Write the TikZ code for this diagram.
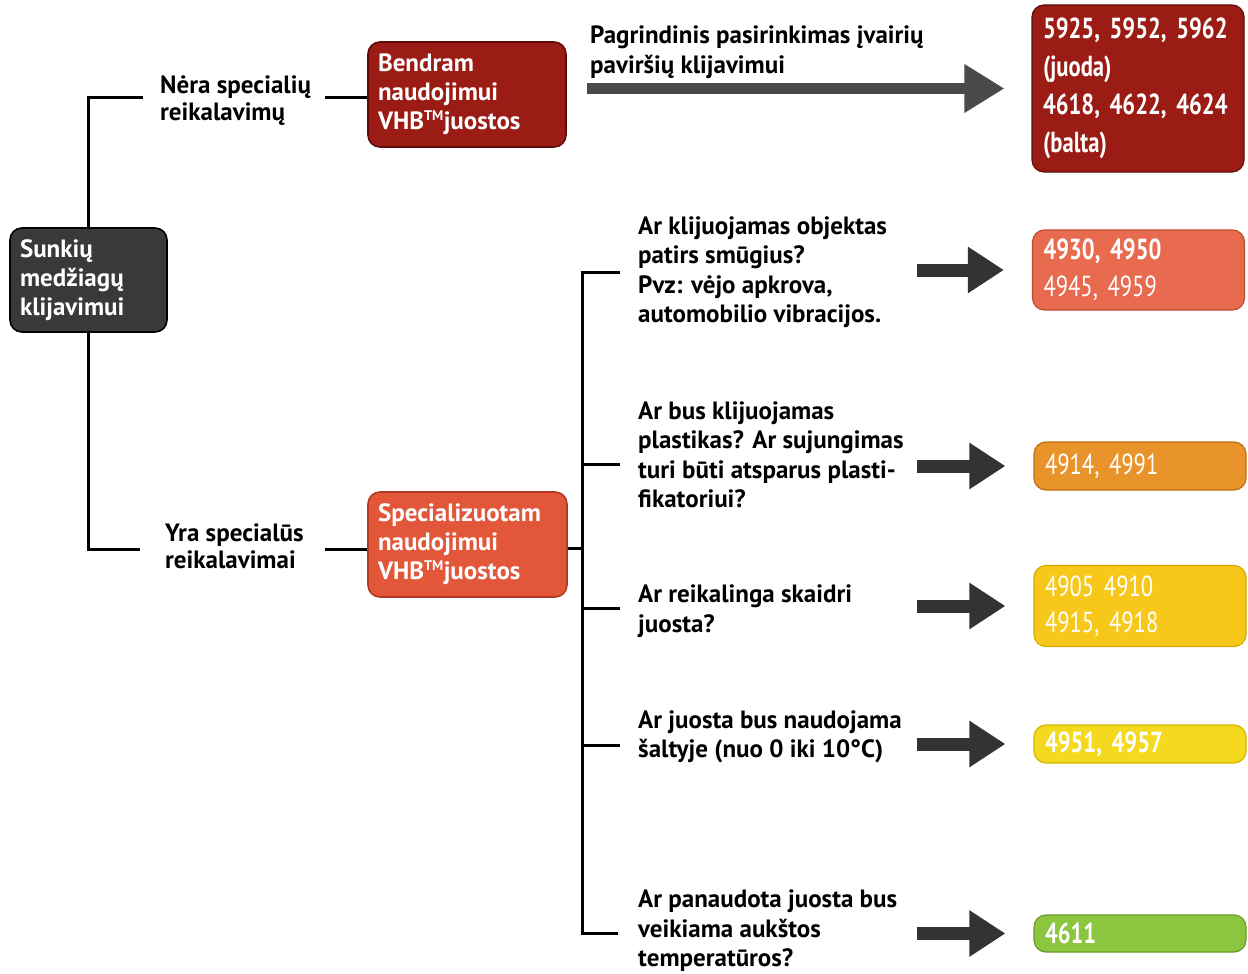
\documentclass[tikz,border=0pt]{standalone}
\usepackage{fontspec}
\setmainfont{PT Sans}
\newfontfamily\condfont[FakeStretch=0.78]{PT Sans}
\usetikzlibrary{arrows.meta}
\definecolor{rootfill}{HTML}{3B3838}
\definecolor{darkred}{HTML}{9A1C14}
\definecolor{darkredb}{HTML}{5E0E09}
\definecolor{specfill}{HTML}{E2573A}
\definecolor{specb}{HTML}{B03A22}
\definecolor{r1fill}{HTML}{E86A4F}
\definecolor{r1b}{HTML}{C04A30}
\definecolor{r2fill}{HTML}{E9942A}
\definecolor{r2b}{HTML}{C06F10}
\definecolor{r3fill}{HTML}{F7C719}
\definecolor{r3b}{HTML}{D8A800}
\definecolor{r4fill}{HTML}{F4D91E}
\definecolor{r4b}{HTML}{D4B800}
\definecolor{r5fill}{HTML}{8CC63E}
\definecolor{r5b}{HTML}{6A9A2A}
\definecolor{arrowc}{HTML}{333333}
\definecolor{toparrow}{HTML}{4A4A4A}
\newcommand{\tmark}{\textsuperscript{\fontsize{14}{14}\selectfont TM}}
\begin{document}
\begin{tikzpicture}[x=1pt,y=-1pt,
  box/.style={rounded corners=12pt, line width=1.6pt, text=white, align=left,
    inner ysep=0pt, font=\fontsize{25}{29}\selectfont\bfseries},
  res/.style={rounded corners=12pt, line width=1.2pt, text=white, align=left,
    inner ysep=0pt, inner xsep=11pt, text width=190pt, minimum width=212pt},
  qtext/.style={anchor=west, align=left, inner sep=0pt,
    font=\fontsize{25}{29.5}\selectfont\bfseries},
  lbl/.style={anchor=west, align=left, inner sep=0pt,
    font=\fontsize{25}{27}\selectfont\bfseries},
  tree/.style={line width=3pt, black},
  bigarrow/.style={line width=13pt, arrowc, shorten >=28pt,
    -{Triangle[length=36pt,width=44pt]}},
  toparr/.style={line width=11pt, toparrow, shorten >=27pt,
    -{Triangle[length=40pt,width=46pt]}}
]
\useasboundingbox[fill=white] (0,0) rectangle (1248,974);

% main boxes
\node[box, draw=black, fill=rootfill, inner xsep=10pt, text width=137pt,
  minimum height=104pt] (root) at (88.5,280)
  {Sunkių\\medžiagų\\klijavimui};
\node[box, draw=darkredb, fill=darkred, inner xsep=10pt, text width=178pt,
  minimum height=105pt] (bend) at (467,94.5)
  {Bendram\\naudojimui\\VHB\tmark juostos};
\node[box, draw=specb, fill=specfill, inner xsep=10pt, text width=179pt,
  minimum height=105pt] (spec) at (467.5,544.5)
  {Specializuotam\\naudojimui\\VHB\tmark juostos};

% labels
\node[lbl] (nera) at (160,101) {Nėra specialių\\reikalavimų};
\node[lbl] (yra) at (165,546) {Yra specialūs\\reikalavimai};
\node[qtext] (toplbl) at (590,52) {Pagrindinis pasirinkimas įvairių\\paviršių klijavimui};

% questions
\node[qtext] (q1) at (638,272) {Ar klijuojamas objektas\\patirs smūgius?\\Pvz: vėjo apkrova,\\automobilio vibracijos.};
\node[qtext] (q2) at (638,455) {Ar bus klijuojamas\\plastikas? Ar sujungimas\\turi būti atsparus plasti-\\fikatoriui?};
\node[qtext] (q3) at (638,611) {Ar reikalinga skaidri\\juosta?};
\node[qtext] (q4) at (638,737) {Ar juosta bus naudojama\\šaltyje (nuo 0 iki 10°C)};
\node[qtext] (q5) at (638,931) {Ar panaudota juosta bus\\veikiama aukštos\\temperatūros?};

% results
\node[res, draw=darkredb, fill=darkred, minimum height=167pt,
  font=\fontsize{29}{38}\selectfont\condfont\bfseries] (top) at (1138,88.5)
  {5925, 5952, 5962\\(juoda)\\4618, 4622, 4624\\(balta)};
\node[res, draw=r1b, fill=r1fill, minimum height=80pt,
  font=\fontsize{29}{37}\selectfont\condfont] (r1) at (1138.5,270)
  {{\bfseries 4930, 4950}\\4945, 4959};
\node[res, draw=r2b, fill=r2fill, minimum height=48pt,
  font=\fontsize{29}{36}\selectfont\condfont] (r2) at (1140,466)
  {4914, 4991};
\node[res, draw=r3b, fill=r3fill, minimum height=81pt,
  font=\fontsize{29}{36}\selectfont\condfont] (r3) at (1140,606)
  {4905 4910\\4915, 4918};
\node[res, draw=r4b, fill=r4fill, minimum height=38pt,
  font=\fontsize{29}{36}\selectfont\condfont\bfseries] (r4) at (1140,744)
  {4951, 4957};
\node[res, draw=r5b, fill=r5fill, minimum height=37pt,
  font=\fontsize{29}{36}\selectfont\condfont\bfseries] (r5) at (1140,933.5)
  {4611};

% tree connectors
\coordinate (n1) at (143,97);
\coordinate (n2) at (325,97);
\coordinate (y1) at (140,549);
\coordinate (y2) at (325,549);
\draw[tree] (root.north) |- (n1);
\draw[tree] (n2) -- (bend.west |- n2);
\draw[tree] (root.south) |- (y1);
\draw[tree] (y2) -- (spec.west |- y2);

\coordinate (bus) at (582,548);
\coordinate (b1) at (620,272);
\coordinate (b2) at (620,464);
\coordinate (b3) at (620,608);
\coordinate (b4) at (620,745);
\coordinate (b5) at (618,933);
\draw[tree] (spec.east |- bus) -- (bus);
\draw[tree] (b1) -- (b1 -| bus) -- (b5 -| bus) -- (b5);
\draw[tree] (b2 -| bus) -- (b2);
\draw[tree] (b3 -| bus) -- (b3);
\draw[tree] (b4 -| bus) -- (b4);

% arrows
\draw[toparr] ([xshift=-444pt]top.west) -- (top.west);
\draw[bigarrow] ([xshift=-115pt]r1.west) -- (r1.west);
\draw[bigarrow] ([xshift=-116pt]r2.west) -- (r2.west);
\draw[bigarrow] ([xshift=-116pt]r3.west) -- (r3.west);
\draw[bigarrow] ([xshift=-116pt]r4.west) -- (r4.west);
\draw[bigarrow] ([xshift=-116pt]r5.west) -- (r5.west);
\end{tikzpicture}
\end{document}
